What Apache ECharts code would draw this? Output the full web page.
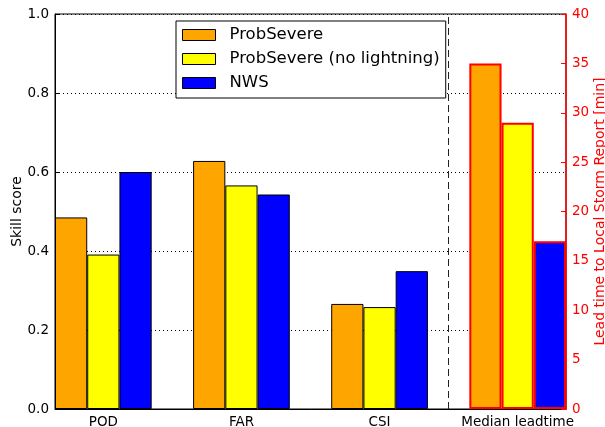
<!DOCTYPE html>
<html><head><meta charset="utf-8">
<script src="https://cdn.jsdelivr.net/npm/echarts@6/dist/echarts.min.js"></script>
<style>html,body{margin:0;padding:0;background:#fff}#c{width:605px;height:427px}</style>
</head><body><div id="c"></div>
<script>
// ---- data ----
const categories = ['POD', 'FAR', 'CSI', 'Median leadtime'];
const seriesNames = ['ProbSevere', 'ProbSevere (no lightning)', 'NWS'];
const probSevere = [0.485, 0.628, 0.266];
const probSevereNoLightning = [0.391, 0.566, 0.258];
const nws = [0.600, 0.543, 0.349];
const medianLeadtime = [35, 29, 17]; // ProbSevere, ProbSevere (no lightning), NWS [min]
const skillTickLabels = ['0.0', '0.2', '0.4', '0.6', '0.8', '1.0'];
const leadTickLabels = ['0', '5', '10', '15', '20', '25', '30', '35', '40'];

// ---- layout ----
const colors = ['#FFA500', '#FFFF00', '#0000FF'];
const skillValues = [probSevere, probSevereNoLightning, nws];
const W = 605, H = 427;
const grid = { left: 55, right: 39, top: 14, bottom: 18 };
const groupW = 0.7, barW = groupW / 3;
const xMax = categories.length - 1 + groupW;
const pxPerUnit = (W - grid.left - grid.right) / xMax;
const barPx = barW * pxPerUnit;
const sepX = (2 + groupW + 3) / 2;

const series = [];
for (let i = 0; i < 3; i++) {
  const s = {
    name: seriesNames[i], type: 'bar', xAxisIndex: 0, yAxisIndex: 0,
    barWidth: barPx, barGap: '-100%',
    itemStyle: { color: colors[i], borderColor: '#000', borderWidth: 1 },
    data: skillValues[i].map((v, k) => [k + (i + 0.5) * barW, v]),
    silent: true, z: 2
  };
  if (i === 0) {
    s.markLine = {
      silent: true, symbol: ['none', 'none'], label: { show: false },
      lineStyle: { type: [7, 4], color: '#222', width: 1 },
      data: [{ xAxis: sepX }]
    };
  }
  series.push(s);
}
for (let i = 0; i < 3; i++) {
  series.push({
    name: seriesNames[i], type: 'bar', xAxisIndex: 0, yAxisIndex: 1,
    barWidth: barPx, barGap: '-100%',
    itemStyle: { color: colors[i], borderColor: '#FF0000', borderWidth: 2 },
    data: [[3 + (i + 0.5) * barW, medianLeadtime[i]]],
    silent: true, z: 2
  });
}

const chart = echarts.init(document.getElementById('c'), null, { renderer: 'canvas' });
chart.setOption({
  animation: false,
  backgroundColor: '#fff',
  textStyle: { fontFamily: 'DejaVu Sans' },
  grid: Object.assign({ show: true, borderColor: '#000', borderWidth: 1, backgroundColor: 'transparent',
    containLabel: false, outerBoundsMode: 'none' }, grid),
  legend: {
    orient: 'vertical', left: 176, top: 21, padding: [5.5, 6, 6.5, 6],
    borderColor: '#000', borderWidth: 1, backgroundColor: '#fff',
    itemWidth: 33, itemHeight: 11, itemGap: 7, selectedMode: false,
    icon: 'rect',
    itemStyle: { borderColor: '#000', borderWidth: 1 },
    textStyle: { fontSize: 16.5, lineHeight: 17, color: '#000', fontFamily: 'DejaVu Sans', padding: [0, 0, 0, 9] },
    data: seriesNames
  },
  xAxis: {
    type: 'value', min: 0, max: xMax, interval: 0.05,
    axisLine: { show: true, lineStyle: { color: '#000', width: 1 } },
    axisTick: { show: false }, splitLine: { show: false },
    axisLabel: {
      color: '#000', fontSize: 13.5, margin: 6, fontFamily: 'DejaVu Sans',
      formatter: v => {
        for (let k = 0; k < categories.length; k++) {
          if (Math.abs(v - (k + groupW / 2)) < 1e-6) return categories[k];
        }
        return '';
      }
    }
  },
  yAxis: [
    {
      type: 'value', min: 0, max: 1, interval: 0.2, position: 'left',
      name: 'Skill score', nameLocation: 'middle', nameRotate: 90, nameGap: 31, nameMoveOverlap: false,
      nameTextStyle: { fontSize: 14, color: '#000', fontFamily: 'DejaVu Sans' },
      axisLine: { show: true, lineStyle: { color: '#000', width: 1 } },
      axisTick: { show: true, inside: true, length: 4, lineStyle: { color: '#000' } },
      axisLabel: { color: '#000', fontSize: 13.5, margin: 6, fontFamily: 'DejaVu Sans',
        formatter: v => skillTickLabels[Math.round(v / 0.2)] },
      splitLine: { show: true, lineStyle: { type: [1, 3], color: '#000', width: 1 } }
    },
    {
      type: 'value', min: 0, max: 40, interval: 5, position: 'right',
      name: 'Lead time to Local Storm Report [min]', nameLocation: 'middle', nameRotate: 90, nameGap: 27, nameMoveOverlap: false,
      nameTextStyle: { fontSize: 14, color: '#FF0000', fontFamily: 'DejaVu Sans' },
      axisLine: { show: true, lineStyle: { color: '#FF0000', width: 1.5 } },
      axisTick: { show: true, inside: true, length: 5, lineStyle: { color: '#FF0000', width: 1 } },
      axisLabel: { color: '#FF0000', fontSize: 13.5, margin: 6, fontFamily: 'DejaVu Sans',
        formatter: v => leadTickLabels[Math.round(v / 5)] },
      splitLine: { show: false }
    }
  ],
  series: series
});
</script></body></html>
